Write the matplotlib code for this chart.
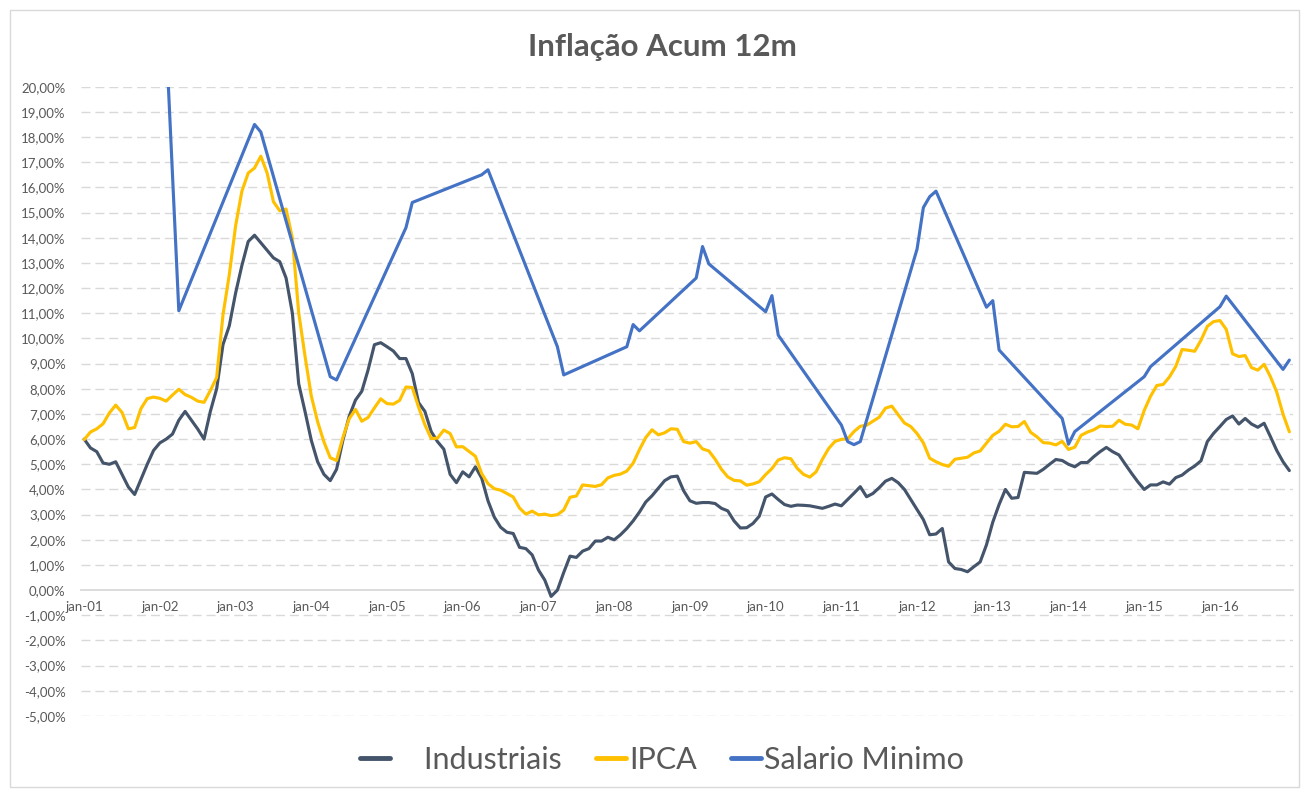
import numpy as np
import pandas as pd
import matplotlib
matplotlib.use("Agg")
import matplotlib.pyplot as plt

plt.rcParams['font.family'] = ['Lato', 'DejaVu Sans']

# monthly series, jan-01 .. dez-16 (12m accumulated, %)
industriais = [
    6.0, 5.65, 5.5, 5.05, 5.0, 5.1, 4.6, 4.1, 3.8, 4.4, 5.0, 5.55,
    5.85, 6.0, 6.2, 6.75, 7.1, 6.75, 6.4, 6.0, 7.1, 8.0, 9.75, 10.5,
    11.8, 12.9, 13.85, 14.1, 13.8, 13.5, 13.2, 13.05, 12.4, 11.0, 8.2, 7.1,
    5.95, 5.1, 4.6, 4.35, 4.8, 5.95, 6.9, 7.55, 7.9, 8.75, 9.75, 9.83,
    9.67, 9.5, 9.2, 9.2, 8.6, 7.45, 7.1, 6.3, 5.9, 5.6, 4.6, 4.27,
    4.7, 4.5, 4.9, 4.45, 3.55, 2.9, 2.5, 2.3, 2.25, 1.7, 1.65, 1.4,
    0.8, 0.4, -0.25, 0.0, 0.7, 1.35, 1.3, 1.55, 1.65, 1.95, 1.95, 2.1,
    2.0, 2.2, 2.45, 2.75, 3.1, 3.5, 3.75, 4.05, 4.35, 4.5, 4.53, 3.95,
    3.55, 3.45, 3.48, 3.48, 3.44, 3.25, 3.15, 2.75, 2.47, 2.48, 2.65, 2.94,
    3.7, 3.82, 3.6, 3.4, 3.33, 3.38, 3.37, 3.35, 3.3, 3.25, 3.33, 3.42,
    3.35, 3.6, 3.85, 4.11, 3.71, 3.84, 4.07, 4.33, 4.44, 4.27, 4.0, 3.6,
    3.2, 2.8, 2.2, 2.23, 2.45, 1.12, 0.86, 0.82, 0.73, 0.93, 1.12, 1.8,
    2.7, 3.4, 4.0, 3.65, 3.68, 4.68, 4.66, 4.64, 4.8, 5.0, 5.19, 5.15,
    5.0, 4.9, 5.07, 5.07, 5.3, 5.5, 5.67, 5.5, 5.37, 5.0, 4.64, 4.3,
    4.0, 4.18, 4.18, 4.3, 4.21, 4.47, 4.57, 4.77, 4.93, 5.14, 5.9, 6.23,
    6.5, 6.78, 6.92, 6.6, 6.82, 6.6, 6.47, 6.63, 6.1, 5.55, 5.1, 4.75,
]

ipca = [
    5.98, 6.28, 6.41, 6.61, 7.04, 7.35, 7.06, 6.41, 6.46, 7.21, 7.61, 7.67,
    7.62, 7.51, 7.75, 7.98, 7.77, 7.66, 7.51, 7.46, 7.93, 8.45, 10.93, 12.53,
    14.47, 15.85, 16.57, 16.77, 17.24, 16.57, 15.43, 15.07, 15.14, 13.98, 11.02, 9.30,
    7.71, 6.69, 5.89, 5.26, 5.15, 6.06, 6.81, 7.18, 6.71, 6.86, 7.24, 7.60,
    7.41, 7.39, 7.54, 8.07, 8.05, 7.27, 6.57, 6.02, 6.04, 6.36, 6.22, 5.69,
    5.70, 5.51, 5.32, 4.63, 4.23, 4.03, 3.97, 3.84, 3.70, 3.26, 3.02, 3.14,
    2.99, 3.02, 2.96, 3.00, 3.18, 3.69, 3.74, 4.18, 4.15, 4.12, 4.19, 4.46,
    4.56, 4.61, 4.73, 5.04, 5.58, 6.06, 6.37, 6.17, 6.25, 6.41, 6.39, 5.90,
    5.84, 5.90, 5.61, 5.53, 5.20, 4.80, 4.50, 4.36, 4.34, 4.17, 4.22, 4.31,
    4.59, 4.83, 5.17, 5.26, 5.22, 4.84, 4.60, 4.49, 4.70, 5.20, 5.63, 5.91,
    5.99, 6.01, 6.30, 6.51, 6.55, 6.71, 6.87, 7.23, 7.31, 6.97, 6.64, 6.50,
    6.22, 5.85, 5.24, 5.10, 4.99, 4.92, 5.20, 5.24, 5.28, 5.45, 5.53, 5.84,
    6.15, 6.31, 6.59, 6.49, 6.50, 6.70, 6.27, 6.09, 5.86, 5.84, 5.77, 5.91,
    5.59, 5.68, 6.15, 6.28, 6.37, 6.52, 6.50, 6.51, 6.75, 6.59, 6.56, 6.41,
    7.14, 7.70, 8.13, 8.17, 8.47, 8.89, 9.56, 9.53, 9.49, 9.93, 10.48, 10.67,
    10.71, 10.36, 9.39, 9.28, 9.32, 8.84, 8.74, 8.97, 8.48, 7.87, 6.99, 6.29,
]

# salario minimo only has values in some months (line joins them)
sm_dates = [
    "2002-02", "2002-04", "2003-04", "2003-05", "2004-04", "2004-05",
    "2005-04", "2005-05", "2006-04", "2006-05", "2007-04", "2007-05",
    "2008-03", "2008-04", "2008-05", "2009-02", "2009-03", "2009-04",
    "2010-01", "2010-02", "2010-03", "2011-01", "2011-02", "2011-03",
    "2011-04", "2012-01", "2012-02", "2012-03", "2012-04", "2012-12",
    "2013-01", "2013-02", "2013-12", "2014-01", "2014-02", "2015-01",
    "2015-02", "2016-01", "2016-02", "2016-11", "2016-12",
]
sm_values = [
    21.9, 11.1, 18.5, 18.2, 8.48, 8.35,
    14.4, 15.4, 16.5, 16.7, 9.67, 8.55,
    9.67, 10.55, 10.3, 12.4, 13.65, 12.96,
    11.06, 11.7, 10.13, 6.56, 5.9, 5.78,
    5.9, 13.55, 15.2, 15.63, 15.85, 11.24,
    11.5, 9.54, 6.82, 5.8, 6.3, 8.48,
    8.88, 11.26, 11.68, 8.77, 9.14,
]

months = pd.date_range("2001-01-01", periods=len(ipca), freq="MS")
xi = np.arange(len(months))
sm_x = months.get_indexer(pd.to_datetime(sm_dates))

txt = "#595959"
grid = "#D9D9D9"

fig = plt.figure(figsize=(13.01, 7.90), dpi=100)
ax = fig.add_axes([81 / 1301, 1 - 716 / 790, (1292.5 - 81) / 1301, (716 - 86.7) / 790])

lw = 2.25
ax.plot(xi, industriais, color="#44546A", lw=lw, solid_joinstyle="round", solid_capstyle="round",
        label="    Industriais", zorder=3)
ax.plot(xi, ipca, color="#FFC000", lw=lw, solid_joinstyle="round", solid_capstyle="round",
        label="IPCA", zorder=4)
ax.plot(sm_x, sm_values, color="#4472C4", lw=lw, solid_joinstyle="round", solid_capstyle="round",
        label="Salario Minimo", zorder=5)

ax.set_xlim(-0.5, len(months) - 0.5)
ax.set_ylim(-5, 20)

yt = np.arange(-5, 21, 1)
ax.set_yticks(yt)
ax.set_yticklabels([("%.2f%%" % v).replace(".", ",") for v in yt])
xt = xi[::12]
ax.set_xticks(xt)
ax.set_xticklabels(["jan-%02d" % (m.year % 100) for m in months[::12]])

for v in yt:
    if v != 0:
        ax.axhline(v, color=grid, lw=1.0, ls=(0, (6.5, 3.5)), zorder=1)

for s in ["top", "right", "left"]:
    ax.spines[s].set_visible(False)
ax.spines["bottom"].set_position(("data", 0))
ax.spines["bottom"].set_color(grid)
ax.spines["bottom"].set_linewidth(1.3)
ax.spines["bottom"].set_zorder(2)

ax.tick_params(axis="y", length=0, pad=11, labelsize=9.5, labelcolor=txt)
ax.tick_params(axis="x", length=0, pad=8, labelsize=9.5, labelcolor=txt)

fig.text(662 / 1301, 1 - 47 / 790, "Inflação Acum 12m", ha="center", va="center",
         fontsize=22.5, fontweight="bold", color=txt)

leg = fig.legend(loc="center", bbox_to_anchor=(662 / 1301, 1 - 760 / 790), ncol=3,
                 frameon=False, fontsize=22, handlelength=1.0, handletextpad=0.1,
                 columnspacing=1.1, labelcolor=txt)
for h in leg.get_lines():
    h.set_linewidth(3.5)

# outer chart border
fig.add_artist(plt.Rectangle((10 / 1301, 3 / 790), 1289 / 1301, 777 / 790, transform=fig.transFigure,
                             fill=False, edgecolor=grid, lw=1.0))

fig.savefig("out.png", dpi=100)
